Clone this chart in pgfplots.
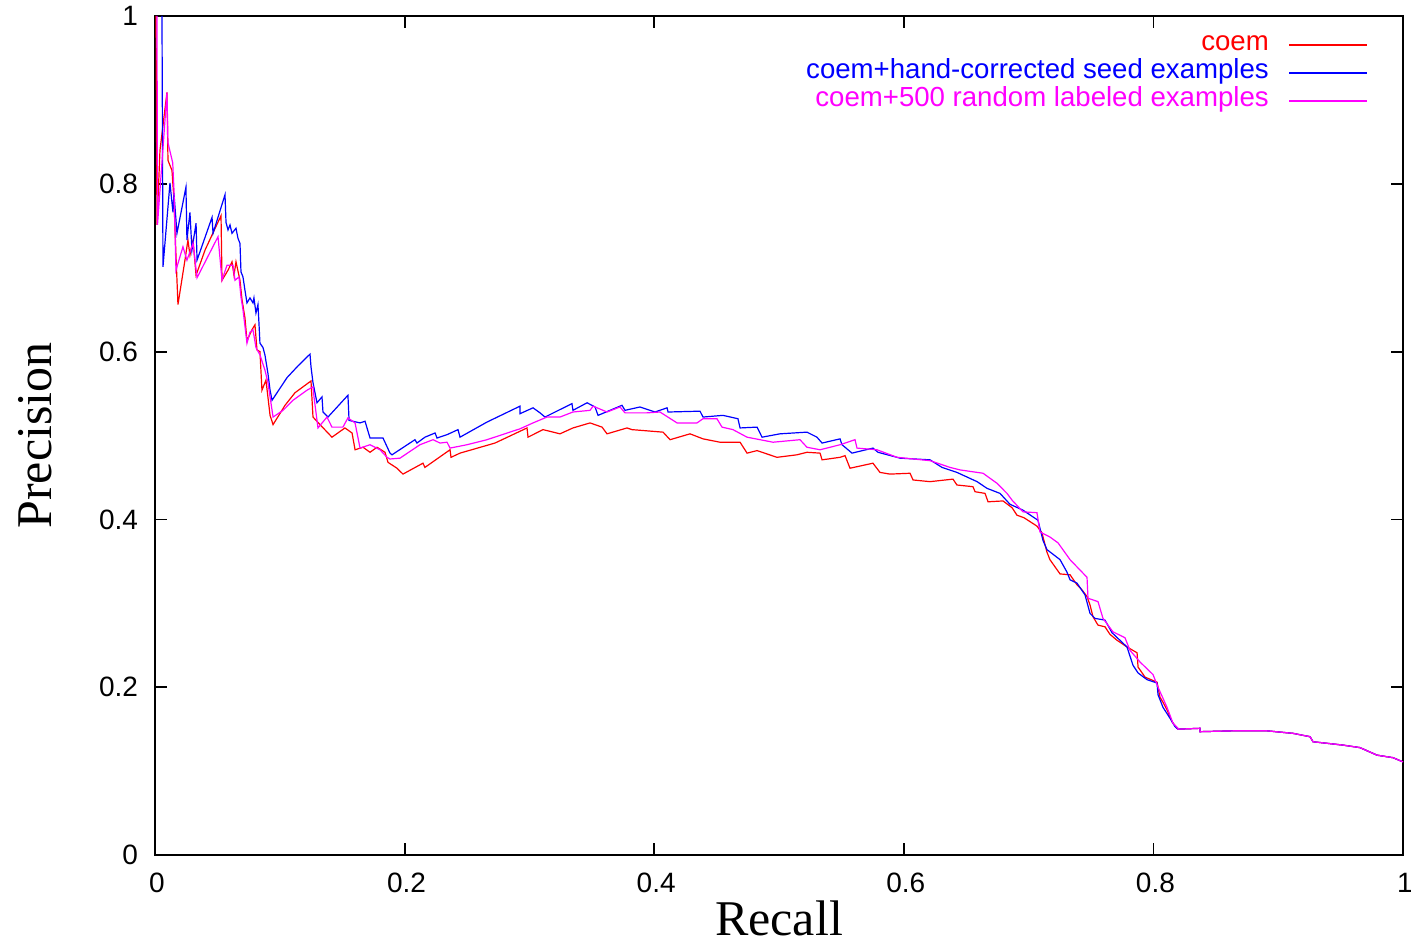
\documentclass[border=0pt]{standalone}
\usepackage{pgfplots}
\pgfplotsset{compat=1.18}
\usepackage{fontspec}
\setmainfont{Liberation Sans}
\newfontfamily\timesfont{Liberation Serif}
\definecolor{gred}{RGB}{255,0,0}
\definecolor{gblue}{RGB}{0,0,255}
\definecolor{gmag}{RGB}{255,0,255}
\begin{document}
\begin{tikzpicture}
\begin{axis}[
  scale only axis, width=624pt, height=419.5pt,
  xmin=0, xmax=1, ymin=0, ymax=1,
  xtick={0,0.2,0.4,0.6,0.8,1}, ytick={0,0.2,0.4,0.6,0.8,1},
  /pgf/number format/assume math mode=true,
  tick label style={font=\fontsize{14}{16}\selectfont},
  xticklabel style={yshift=-5.5pt, xshift=1pt},
  yticklabel style={xshift=-5pt},
  tick align=inside, major tick length=6pt,
  axis line style={line width=0.9pt},
  every tick/.style={black, line width=0.9pt},
  xlabel={Recall}, ylabel={Precision},
  x label style={at={(axis description cs:0.5,-0.0954)}, anchor=base, font=\timesfont\fontsize{25}{28}\selectfont},
  y label style={at={(axis description cs:-0.0833,0.5)}, anchor=base, font=\timesfont\fontsize{25}{28}\selectfont},
  legend plot pos=right,
  legend cell align=right,
  legend image code/.code={\draw[#1] (0pt,0pt) -- (39pt,0pt);},
  legend style={at={(rel axis cs:1,1)}, anchor=north east, xshift=-17.5pt, yshift=-7.5pt,
    draw=none, fill=none, inner sep=0pt, outer sep=0pt, row sep=0pt, column sep=10pt,
    nodes={inner sep=0pt, text height=10pt, text depth=4pt},
    font=\fontsize{13.8}{16}\selectfont},
]
\coordinate (SW) at (rel axis cs:0,0);
\coordinate (NE) at (rel axis cs:1,1);
% coem (red)
\addplot[gred, line width=0.6pt] coordinates {
(0.0008,1.000) (0.0016,0.751) (0.0040,0.840) (0.0096,0.909) (0.0104,0.828) (0.0136,0.816)
(0.0152,0.781) (0.0168,0.715) (0.0184,0.656) (0.0240,0.709) (0.0264,0.733) (0.0280,0.715)
(0.0305,0.733) (0.0329,0.691) (0.0401,0.721) (0.0457,0.739) (0.0529,0.762) (0.0537,0.685)
(0.0585,0.697) (0.0617,0.707) (0.0633,0.691) (0.0649,0.707) (0.0681,0.685) (0.0697,0.662)
(0.0721,0.640) (0.0737,0.613) (0.0777,0.626) (0.0801,0.632) (0.0817,0.602) (0.0841,0.600)
(0.0857,0.554) (0.0889,0.566) (0.0922,0.524) (0.0946,0.513) (0.1042,0.536) (0.1122,0.551)
(0.1250,0.565) (0.1266,0.522) (0.1322,0.513) (0.1418,0.498) (0.1522,0.509) (0.1579,0.503)
(0.1603,0.483) (0.1667,0.486) (0.1723,0.480) (0.1779,0.486) (0.1843,0.480) (0.1867,0.468)
(0.1939,0.461) (0.1987,0.454) (0.2147,0.467) (0.2163,0.462) (0.2364,0.483) (0.2372,0.474)
(0.2444,0.479) (0.2724,0.491) (0.2981,0.509) (0.2989,0.498) (0.3109,0.507) (0.3245,0.502)
(0.3349,0.509) (0.3486,0.515) (0.3582,0.510) (0.3622,0.502) (0.3782,0.509) (0.3822,0.507)
(0.4071,0.504) (0.4127,0.495) (0.4287,0.502) (0.4391,0.496) (0.4527,0.492) (0.4688,0.492)
(0.4744,0.479) (0.4824,0.482) (0.4984,0.474) (0.5144,0.477) (0.5224,0.480) (0.5329,0.479)
(0.5345,0.471) (0.5489,0.474) (0.5529,0.476) (0.5569,0.461) (0.5753,0.467) (0.5809,0.456)
(0.5889,0.454) (0.6050,0.455) (0.6074,0.447) (0.6210,0.445) (0.6394,0.448) (0.6426,0.441)
(0.6554,0.439) (0.6571,0.433) (0.6651,0.431) (0.6675,0.421) (0.6795,0.422) (0.6867,0.414)
(0.6907,0.405) (0.6963,0.402) (0.7067,0.392) (0.7107,0.384) (0.7147,0.361) (0.7171,0.352)
(0.7228,0.340) (0.7252,0.335) (0.7332,0.334) (0.7388,0.322) (0.7428,0.316) (0.7468,0.308)
(0.7492,0.298) (0.7516,0.284) (0.7556,0.274) (0.7612,0.272) (0.7652,0.263) (0.7708,0.256)
(0.7788,0.248) (0.7869,0.241) (0.7877,0.224) (0.7933,0.212) (0.8029,0.206) (0.8053,0.188)
(0.8077,0.182) (0.8109,0.173) (0.8149,0.159) (0.8189,0.151)
(0.8197,0.150) (0.8373,0.151) (0.8373,0.147) (0.8638,0.148) (0.8910,0.148) (0.9119,0.145)
(0.9255,0.141) (0.9279,0.135) (0.9519,0.131) (0.9655,0.128) (0.9792,0.119) (0.9920,0.116)
(1.0000,0.111)
};
\addlegendentry{\textcolor{gred}{coem}}
% coem+hand-corrected seed examples (blue)
\addplot[gblue, line width=0.6pt] coordinates {
(0.0056,1.000) (0.0064,0.701) (0.0120,0.801) (0.0144,0.766) (0.0152,0.789) (0.0176,0.741)
(0.0248,0.796) (0.0256,0.733) (0.0280,0.766) (0.0296,0.721) (0.0329,0.753) (0.0337,0.709)
(0.0457,0.760) (0.0465,0.741) (0.0561,0.787) (0.0569,0.754) (0.0585,0.745) (0.0601,0.751)
(0.0617,0.741) (0.0649,0.747) (0.0665,0.735) (0.0681,0.729) (0.0689,0.695) (0.0705,0.689)
(0.0721,0.673) (0.0737,0.658) (0.0761,0.664) (0.0785,0.658) (0.0793,0.664) (0.0809,0.646)
(0.0825,0.656) (0.0833,0.634) (0.0841,0.610) (0.0865,0.605) (0.0881,0.596) (0.0905,0.574)
(0.0922,0.554) (0.0938,0.542) (0.1058,0.569) (0.1146,0.583) (0.1242,0.597) (0.1250,0.582)
(0.1266,0.563) (0.1298,0.539) (0.1338,0.546) (0.1346,0.528) (0.1386,0.522) (0.1546,0.548)
(0.1555,0.518) (0.1643,0.515) (0.1683,0.517) (0.1723,0.497) (0.1827,0.497) (0.1883,0.479)
(0.1899,0.477) (0.2083,0.495) (0.2099,0.491) (0.2163,0.498) (0.2244,0.503) (0.2260,0.497)
(0.2340,0.501) (0.2428,0.507) (0.2444,0.498) (0.2660,0.516) (0.2925,0.535) (0.2925,0.526)
(0.3029,0.533) (0.3085,0.527) (0.3125,0.522) (0.3341,0.538) (0.3349,0.530) (0.3462,0.539)
(0.3526,0.534) (0.3550,0.524) (0.3742,0.536) (0.3766,0.530) (0.3886,0.534) (0.4006,0.528)
(0.4103,0.533) (0.4111,0.528) (0.4367,0.529) (0.4391,0.522) (0.4551,0.524) (0.4671,0.520)
(0.4688,0.509) (0.4824,0.510) (0.4864,0.498) (0.5008,0.502) (0.5224,0.504) (0.5304,0.498)
(0.5345,0.491) (0.5489,0.496) (0.5505,0.489) (0.5585,0.479) (0.5753,0.485) (0.5793,0.480)
(0.5970,0.473) (0.6210,0.471) (0.6306,0.462) (0.6426,0.456) (0.6587,0.445) (0.6667,0.437)
(0.6771,0.431) (0.6851,0.418) (0.6955,0.411) (0.7075,0.399) (0.7115,0.375) (0.7147,0.364)
(0.7252,0.352) (0.7308,0.337) (0.7332,0.328) (0.7388,0.324) (0.7452,0.310) (0.7492,0.288)
(0.7532,0.282) (0.7612,0.280) (0.7668,0.265) (0.7788,0.248) (0.7837,0.226) (0.7877,0.217)
(0.7949,0.209) (0.8029,0.205) (0.8037,0.191) (0.8077,0.176) (0.8133,0.163) (0.8173,0.153)
(0.8197,0.150) (0.8373,0.151) (0.8373,0.147) (0.8638,0.148) (0.8910,0.148) (0.9119,0.145)
(0.9255,0.141) (0.9279,0.135) (0.9519,0.131) (0.9655,0.128) (0.9792,0.119) (0.9920,0.116)
(1.0000,0.111)
};
\addlegendentry{\textcolor{gblue}{coem+hand-corrected seed examples}}
% coem+500 random labeled examples (magenta)
\addplot[gmag, line width=0.6pt] coordinates {
(0.0016,1.000) (0.0020,0.751) (0.0096,0.909) (0.0104,0.849) (0.0142,0.825) (0.0152,0.793)
(0.0168,0.697) (0.0224,0.725) (0.0256,0.709) (0.0305,0.729) (0.0337,0.688) (0.0505,0.737)
(0.0537,0.685) (0.0577,0.703) (0.0625,0.703) (0.0641,0.685) (0.0673,0.689) (0.0689,0.665)
(0.0705,0.650) (0.0737,0.610) (0.0761,0.623) (0.0785,0.626) (0.0809,0.605) (0.0841,0.596)
(0.0881,0.578) (0.0905,0.563) (0.0946,0.522) (0.1026,0.530) (0.1106,0.542) (0.1218,0.554)
(0.1266,0.558) (0.1274,0.546) (0.1306,0.509) (0.1378,0.522) (0.1418,0.510) (0.1506,0.510)
(0.1546,0.521) (0.1603,0.515) (0.1643,0.485) (0.1723,0.489) (0.1803,0.483) (0.1859,0.474)
(0.1883,0.472) (0.1963,0.473) (0.2123,0.489) (0.2228,0.495) (0.2284,0.491) (0.2340,0.492)
(0.2364,0.485) (0.2500,0.489) (0.2660,0.495) (0.2925,0.508) (0.3029,0.515) (0.3141,0.522)
(0.3245,0.522) (0.3349,0.528) (0.3486,0.530) (0.3510,0.535) (0.3622,0.528) (0.3726,0.534)
(0.3766,0.527) (0.3942,0.527) (0.4046,0.528) (0.4183,0.515) (0.4343,0.515) (0.4391,0.520)
(0.4503,0.520) (0.4543,0.510) (0.4631,0.507) (0.4744,0.498) (0.4848,0.495) (0.4952,0.492)
(0.5168,0.495) (0.5224,0.486) (0.5329,0.483) (0.5489,0.489) (0.5609,0.495) (0.5625,0.485)
(0.5785,0.483) (0.5946,0.474) (0.6210,0.470) (0.6370,0.462) (0.6450,0.459) (0.6635,0.455)
(0.6747,0.443) (0.6827,0.431) (0.6867,0.423) (0.6955,0.409) (0.7067,0.408) (0.7091,0.385)
(0.7171,0.379) (0.7236,0.372) (0.7332,0.352) (0.7468,0.331) (0.7476,0.306) (0.7556,0.302)
(0.7596,0.282) (0.7676,0.266) (0.7772,0.259) (0.7812,0.244) (0.7893,0.230) (0.7997,0.215)
(0.8037,0.200) (0.8109,0.176) (0.8157,0.157) (0.8197,0.151)
(0.8197,0.150) (0.8373,0.151) (0.8373,0.147) (0.8638,0.148) (0.8910,0.148) (0.9119,0.145)
(0.9255,0.141) (0.9279,0.135) (0.9519,0.131) (0.9655,0.128) (0.9792,0.119) (0.9920,0.116)
(1.0000,0.111)
};
\addlegendentry{\textcolor{gmag}{coem+500 random labeled examples}}
\end{axis}
\pgfresetboundingbox
\path[use as bounding box] ([xshift=-77.5pt,yshift=-44.5pt]SW) rectangle ([xshift=4pt,yshift=8pt]NE);
\end{tikzpicture}
\end{document}
